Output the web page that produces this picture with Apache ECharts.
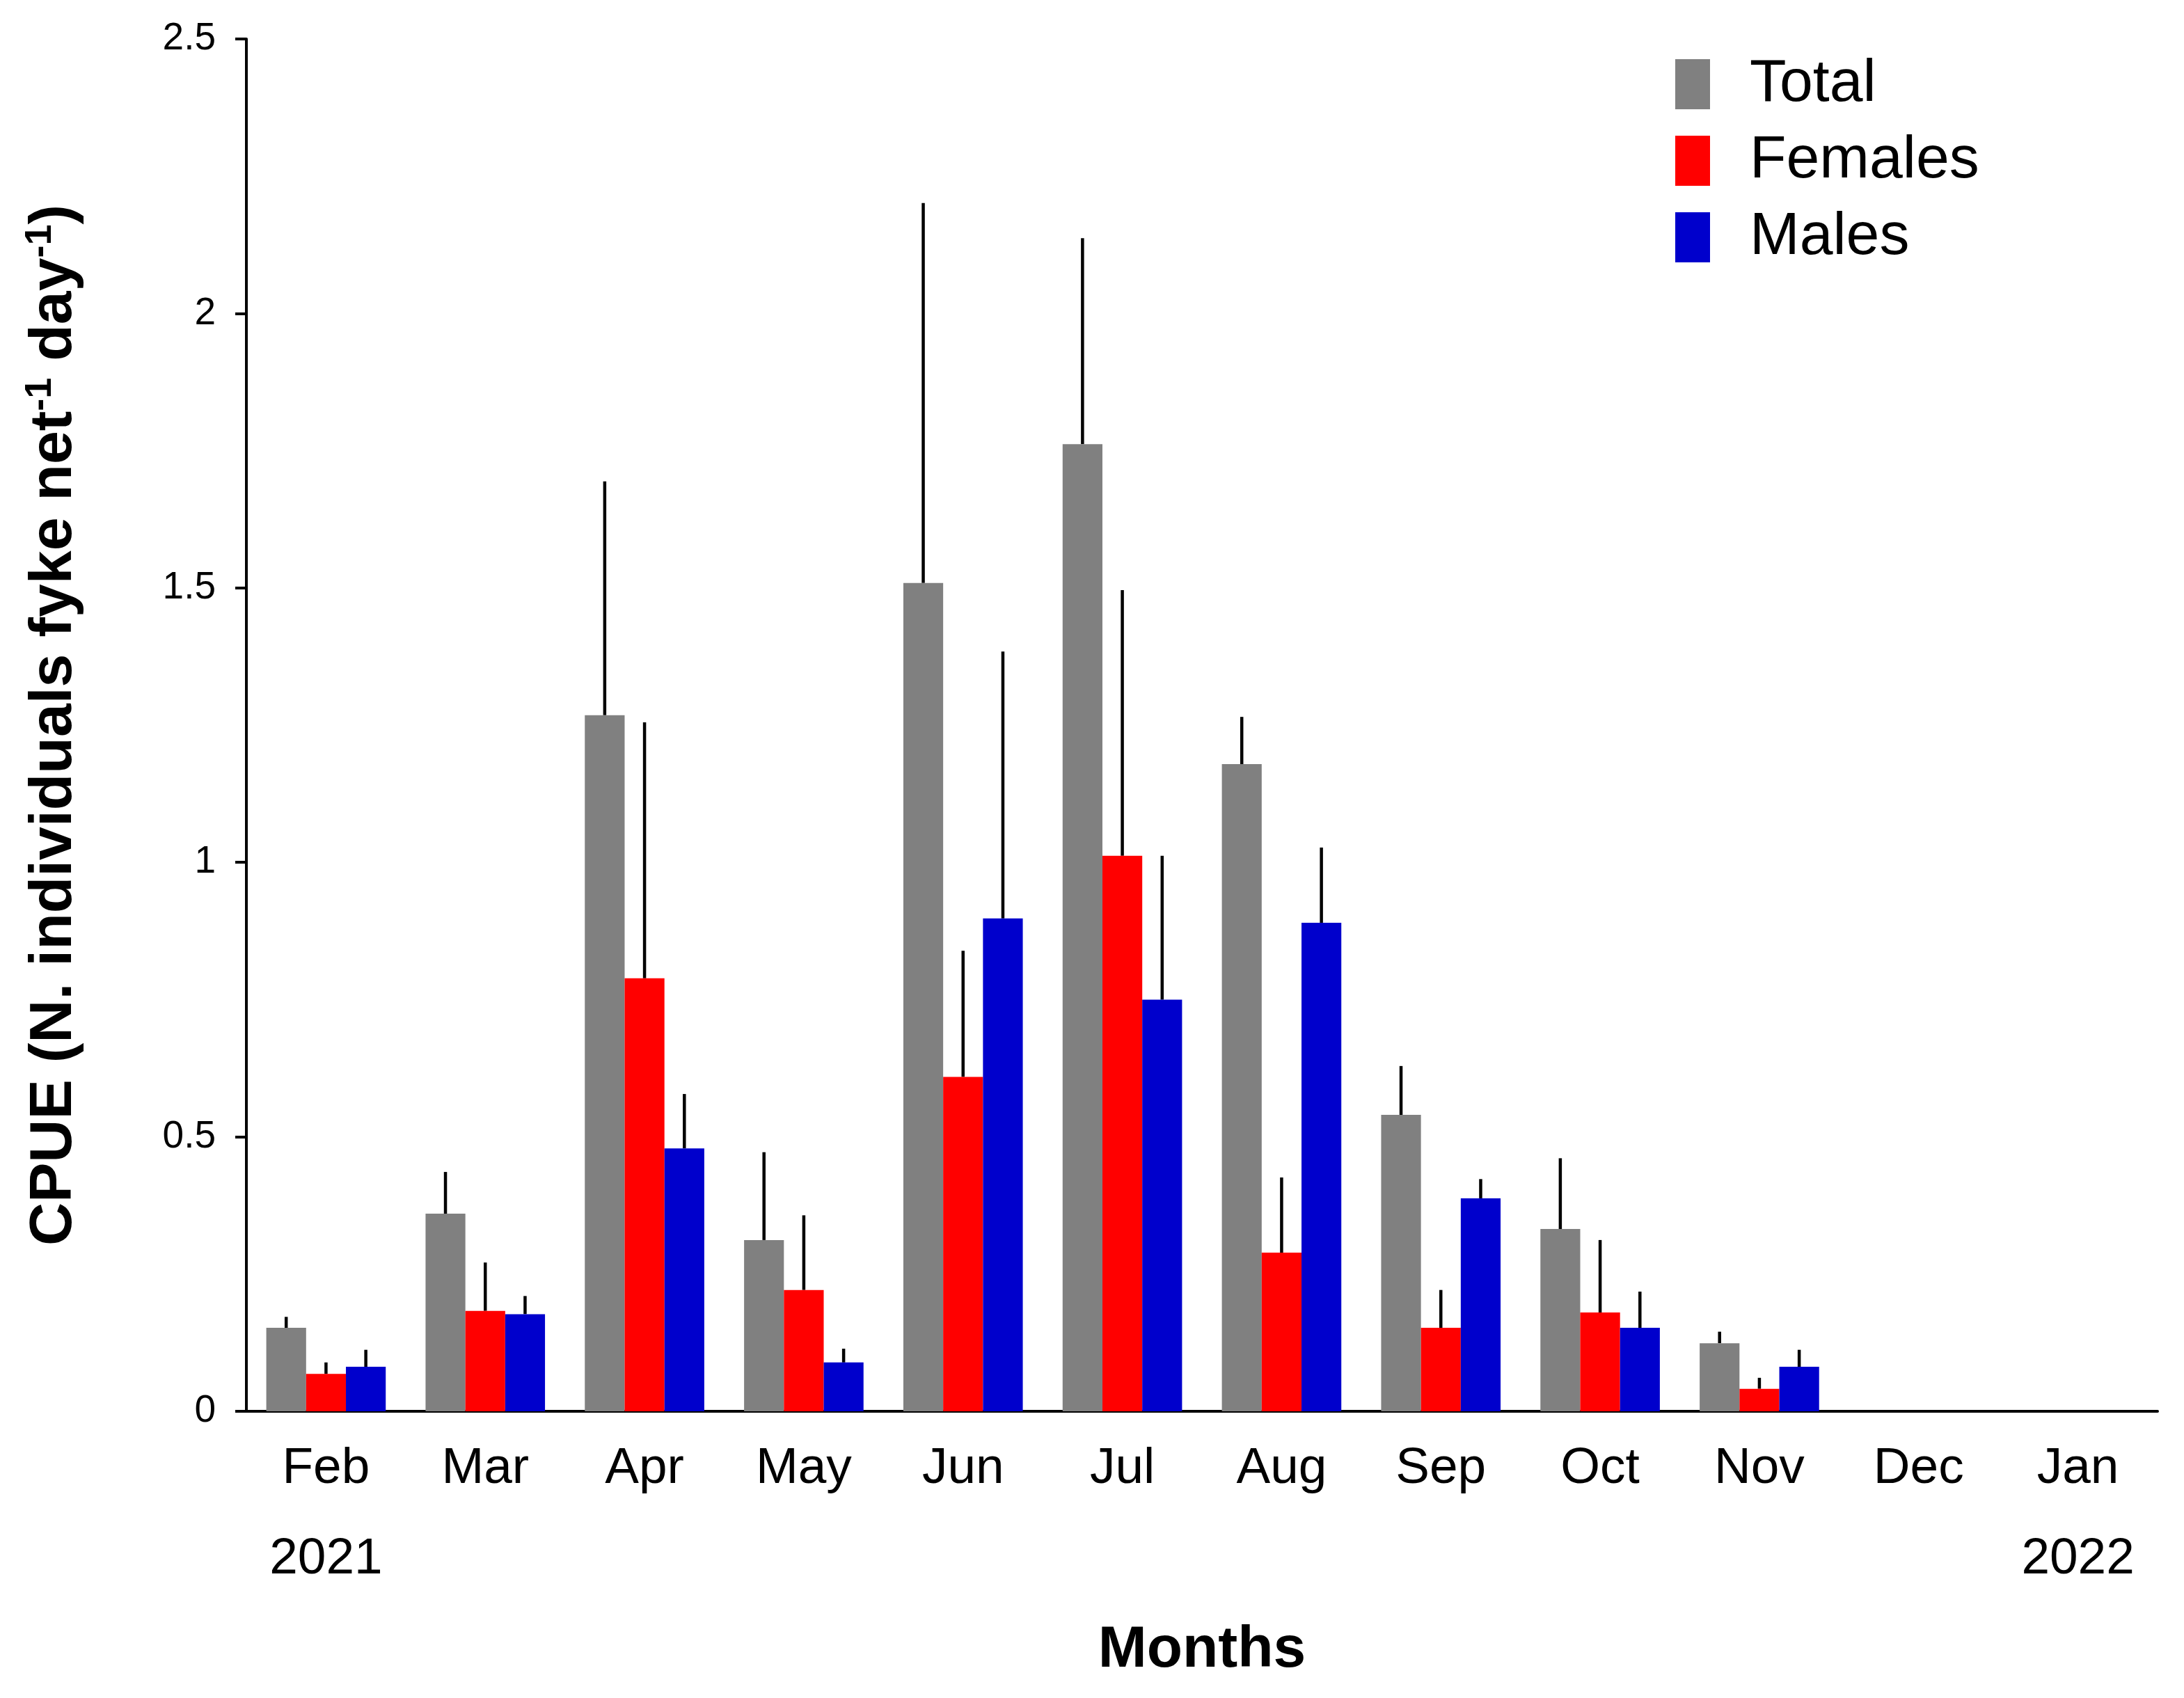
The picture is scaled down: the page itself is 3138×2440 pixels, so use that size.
<!DOCTYPE html>
<html><head><meta charset="utf-8">
<script src="https://cdn.jsdelivr.net/npm/echarts@6/dist/echarts.min.js"></script>
<style>html,body{margin:0;padding:0;background:#fff}#c{width:3138px;height:2440px}</style>
</head><body><div id="c"></div>
<script>
const months = ['Feb','Mar','Apr','May','Jun','Jul','Aug','Sep','Oct','Nov','Dec','Jan'];
const years = ['2021','','','','','','','','','','','2022'];
const seriesNames = ['Total','Females','Males'];
const totalMean   = [0.152,0.360,1.268,0.312,1.509,1.762,1.179,0.540,0.332,0.124,null,null];
const totalErr    = [0.172,0.436,1.694,0.472,2.201,2.137,1.265,0.629,0.461,0.145,null,null];
const femalesMean = [0.068,0.183,0.789,0.221,0.609,1.012,0.289,0.152,0.180,0.041,null,null];
const femalesErr  = [0.089,0.271,1.255,0.357,0.839,1.496,0.426,0.221,0.312,0.061,null,null];
const malesMean   = [0.081,0.177,0.479,0.089,0.898,0.750,0.890,0.388,0.152,0.081,null,null];
const malesErr    = [0.112,0.210,0.578,0.114,1.384,1.012,1.027,0.423,0.218,0.112,null,null];
const yTicks = [0, 0.5, 1, 1.5, 2, 2.5];

const colors = ['#808080','#ff0000','#0000cc'];
const FONT = 'Liberation Sans, Arial, sans-serif';
const means = [totalMean, femalesMean, malesMean];
const errs = [totalErr, femalesErr, malesErr];

function errData(m, e){
  const out = [];
  m.forEach((v,i)=>{ if(v!=null && e[i]!=null) out.push([i, v, e[i]]); });
  return out;
}
function errSeries(k){
  return {
    type:'custom', xAxisIndex:0, yAxisIndex:0, silent:true, z:1,
    data: errData(means[k], errs[k]),
    renderItem: function(params, api){
      const catW = api.size([1,0])[0];
      const bw = catW*0.75/3;
      const p0 = api.coord([api.value(0), api.value(1)]);
      const p1 = api.coord([api.value(0), api.value(2)]);
      const x = p0[0] + (k-1)*bw;
      return {type:'line', shape:{x1:x,y1:p0[1],x2:x,y2:p1[1]}, style:{stroke:'#000', lineWidth:4.5}};
    }
  };
}

const chart = echarts.init(document.getElementById('c'));
chart.setOption({
  animation:false,
  backgroundColor:'#fff',
  textStyle:{fontFamily:FONT},
  grid:{left:354, right:38, top:56, bottom:412},
  legend:{
    orient:'vertical', left:2402, top:73,
    itemWidth:50, itemHeight:72, itemGap:24,
    icon:'rect',
    data: seriesNames,
    textStyle:{fontFamily:FONT, fontSize:86, color:'#000', padding:[0,0,0,52]}
  },
  xAxis:[{
    type:'category', data:months, boundaryGap:true,
    axisLine:{lineStyle:{color:'#000', width:4}},
    axisTick:{alignWithLabel:true, length:16, lineStyle:{color:'#000', width:4}},
    axisLabel:{color:'#000', fontSize:73, fontFamily:FONT, margin:46, interval:0},
    name:'Months', nameLocation:'middle', nameGap:302,
    nameTextStyle:{fontFamily:FONT, fontSize:84, fontWeight:'bold', color:'#000', verticalAlign:'top'}
  },{
    type:'category', data:years, boundaryGap:true, position:'bottom', offset:130,
    axisLine:{show:false}, axisTick:{show:false},
    axisLabel:{color:'#000', fontSize:73, fontFamily:FONT, margin:46, interval:0}
  }],
  yAxis:{
    type:'value', min:yTicks[0], max:yTicks[yTicks.length-1], interval:0.5,
    splitLine:{show:false},
    axisLine:{show:true, lineStyle:{color:'#000', width:4}},
    axisTick:{show:true, length:16, lineStyle:{color:'#000', width:4}},
    axisLabel:{color:'#000', fontSize:55, fontFamily:FONT, margin:44},
    name:'{a|CPUE (N. individuals fyke net}{s|-1}{a| day}{s|-1}{a|)}',
    nameLocation:'middle', nameGap:226, nameRotate:90,
    nameTextStyle:{
      rich:{
        a:{fontFamily:FONT, fontSize:86, fontWeight:'bold', color:'#000', lineHeight:100},
        s:{fontFamily:FONT, fontSize:54, fontWeight:'bold', color:'#000', lineHeight:100, padding:[0,0,40,0]}
      }
    }
  },
  series: seriesNames.map((n,k)=>({
    name:n, type:'bar', xAxisIndex:0, data:means[k],
    barGap:'0%', barCategoryGap:'25%', z:2,
    itemStyle:{color:colors[k]}
  })).concat([0,1,2].map(errSeries))
});
</script></body></html>
